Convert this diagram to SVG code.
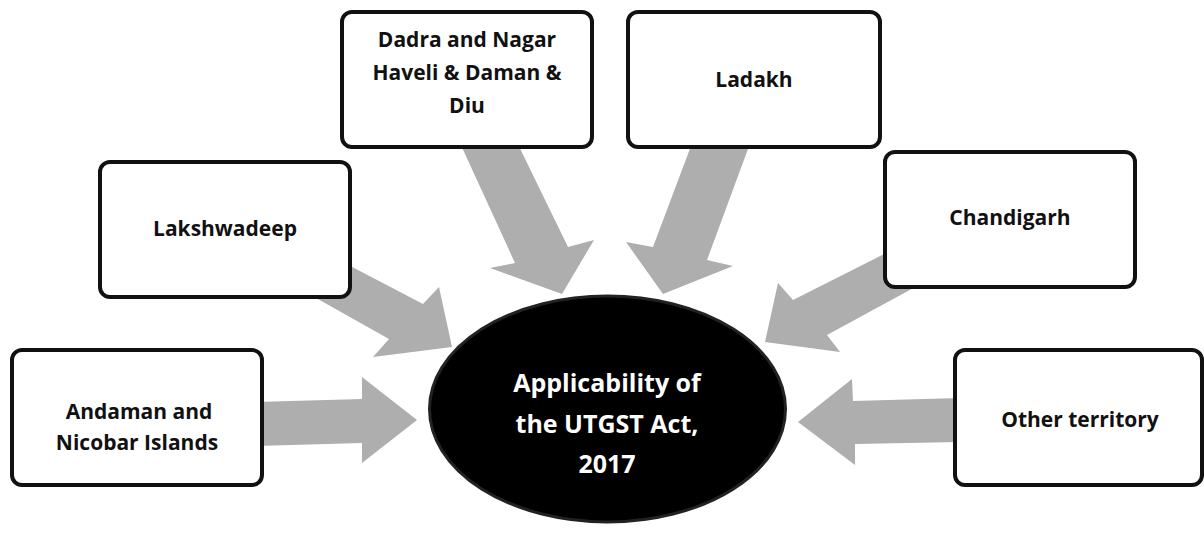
<svg xmlns="http://www.w3.org/2000/svg" width="1204" height="535" viewBox="0 0 1204 535">
<style>
.arrow{fill:#AEAEAE;stroke:none}
.box{fill:#FFFFFF;stroke:#111111;stroke-width:4}
.lbl{font-family:"Open Sans","Liberation Sans",sans-serif;font-weight:700;font-size:21px;fill:#111111;text-anchor:middle}
.ctr{font-family:"Open Sans","Liberation Sans",sans-serif;font-weight:700;font-size:25px;fill:#FFFFFF;text-anchor:middle}
</style>
<rect x="0" y="0" width="1204" height="535" fill="#FFFFFF"/>
<g id="connectors">
<polygon class="arrow" points="255,402 362,399 362,377 417,420 362,463 362,443 255,446"/>
<polygon class="arrow" points="335,258 423,304 439,287 452,347 373,357 389,339 300,289"/>
<polygon class="arrow" points="454,130 515,263 490,268 562,294 594,240 568,247 511,130"/>
<polygon class="arrow" points="697,130 653,247 626,242 663,294 733,266 707,260 755,130"/>
<polygon class="arrow" points="900,246 793,300 778,283 765,342 840,352 827,335 930,279"/>
<polygon class="arrow" points="960,398 853,401 852,379 798,422 855,465 855,444 960,442"/>
</g>
<g id="node-andaman">
<rect class="box" x="12" y="350" width="250" height="135" rx="10"/>
<text class="lbl" x="139" y="419">Andaman and</text>
<text class="lbl" x="137" y="450">Nicobar Islands</text>
</g>
<g id="node-lakshwadeep">
<rect class="box" x="100" y="162" width="250" height="135" rx="10"/>
<text class="lbl" x="225" y="236">Lakshwadeep</text>
</g>
<g id="node-dadra">
<rect class="box" x="342" y="12" width="250" height="135" rx="10"/>
<text class="lbl" x="467" y="47">Dadra and Nagar</text>
<text class="lbl" x="467" y="80">Haveli &amp; Daman &amp;</text>
<text class="lbl" x="467" y="113">Diu</text>
</g>
<g id="node-ladakh">
<rect class="box" x="628" y="12" width="252" height="135" rx="10"/>
<text class="lbl" x="754" y="87">Ladakh</text>
</g>
<g id="node-chandigarh">
<rect class="box" x="885" y="152" width="250" height="135" rx="10"/>
<text class="lbl" x="1010" y="225">Chandigarh</text>
</g>
<g id="node-other">
<rect class="box" x="955" y="350" width="247" height="135" rx="10"/>
<text class="lbl" x="1080" y="427">Other territory</text>
</g>
<g id="node-center">
<ellipse cx="607.5" cy="409" rx="178" ry="113" fill="#000000" stroke="#222222" stroke-width="3"/>
<text class="ctr" x="607" y="392">Applicability of</text>
<text class="ctr" x="607" y="433">the UTGST Act,</text>
<text class="ctr" x="607" y="473">2017</text>
</g>
</svg>
